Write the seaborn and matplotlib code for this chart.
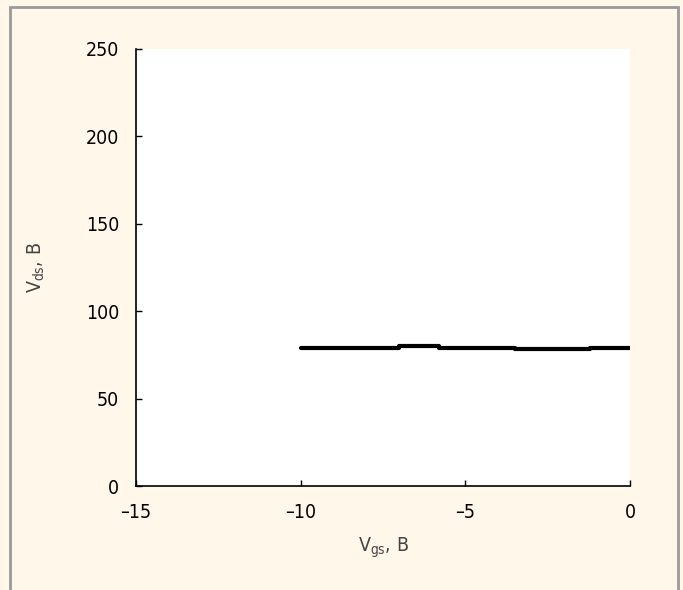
import matplotlib
matplotlib.use("Agg")
import matplotlib.pyplot as plt
import seaborn as sns
import pandas as pd
from matplotlib.patches import Rectangle
from matplotlib import font_manager

# Data
vgs = [-10.0, -7.0, -5.8, -3.5, -1.2, 0.0]
vds = [79.0, 80.0, 79.0, 78.3, 79.0, 79.0]
xticks = [-15, -10, -5, 0]
yticks = [0, 50, 100, 150, 200, 250]

sns.set_theme(style="white")
names = {f.name for f in font_manager.fontManager.ttflist}
fam = 'Liberation Sans Narrow' if 'Liberation Sans Narrow' in names else 'DejaVu Sans'
plt.rcParams['font.family'] = [fam, 'DejaVu Sans']
plt.rcParams['font.stretch'] = 'condensed'
plt.rcParams['mathtext.fontset'] = 'custom'
plt.rcParams['mathtext.rm'] = fam + ':stretch=condensed'
plt.rcParams['mathtext.it'] = fam + ':stretch=condensed'
plt.rcParams['xtick.direction'] = 'in'
plt.rcParams['ytick.direction'] = 'in'

bg = '#FFF7EA'
fig = plt.figure(figsize=(6.83, 5.90), dpi=100, facecolor=bg)
fig.patches.append(Rectangle((10/683, -0.01), 668/683, (590-7)/590 + 0.01,
                             transform=fig.transFigure, fill=False,
                             edgecolor='#9a9a9a', linewidth=2))
ax = fig.add_axes([136/683, (590-486)/590, (630-136)/683, (486-49)/590])
ax.set_facecolor('white')

df = pd.DataFrame({'vgs': vgs, 'vds': vds})
sns.lineplot(data=df, x='vgs', y='vds', ax=ax, color='black', linewidth=3,
             drawstyle='steps-post')

ax.set_xlim(-15, 0)
ax.set_ylim(0, 250)
ax.set_xticks(xticks)
ax.set_yticks(yticks)
ax.set_xticklabels(['\u201315', '\u201310', '\u20135', '0'])
ax.set_yticklabels([str(t) for t in yticks])
ax.tick_params(direction='in', length=4, width=1, colors='black',
               labelsize=14, pad=12, bottom=True, left=True)
for s in ['top', 'right']:
    ax.spines[s].set_visible(False)
for s in ['left', 'bottom']:
    ax.spines[s].set_color('black')
    ax.spines[s].set_linewidth(1.2)

ax.set_xlabel(r'$\mathregular{V_{gs}}$, B', fontsize=14, color='#444444', labelpad=10)
ax.set_ylabel(r'$\mathregular{V_{ds}}$, B', fontsize=14, color='#444444', labelpad=28)

fig.savefig('out.png', dpi=100, facecolor=bg)
